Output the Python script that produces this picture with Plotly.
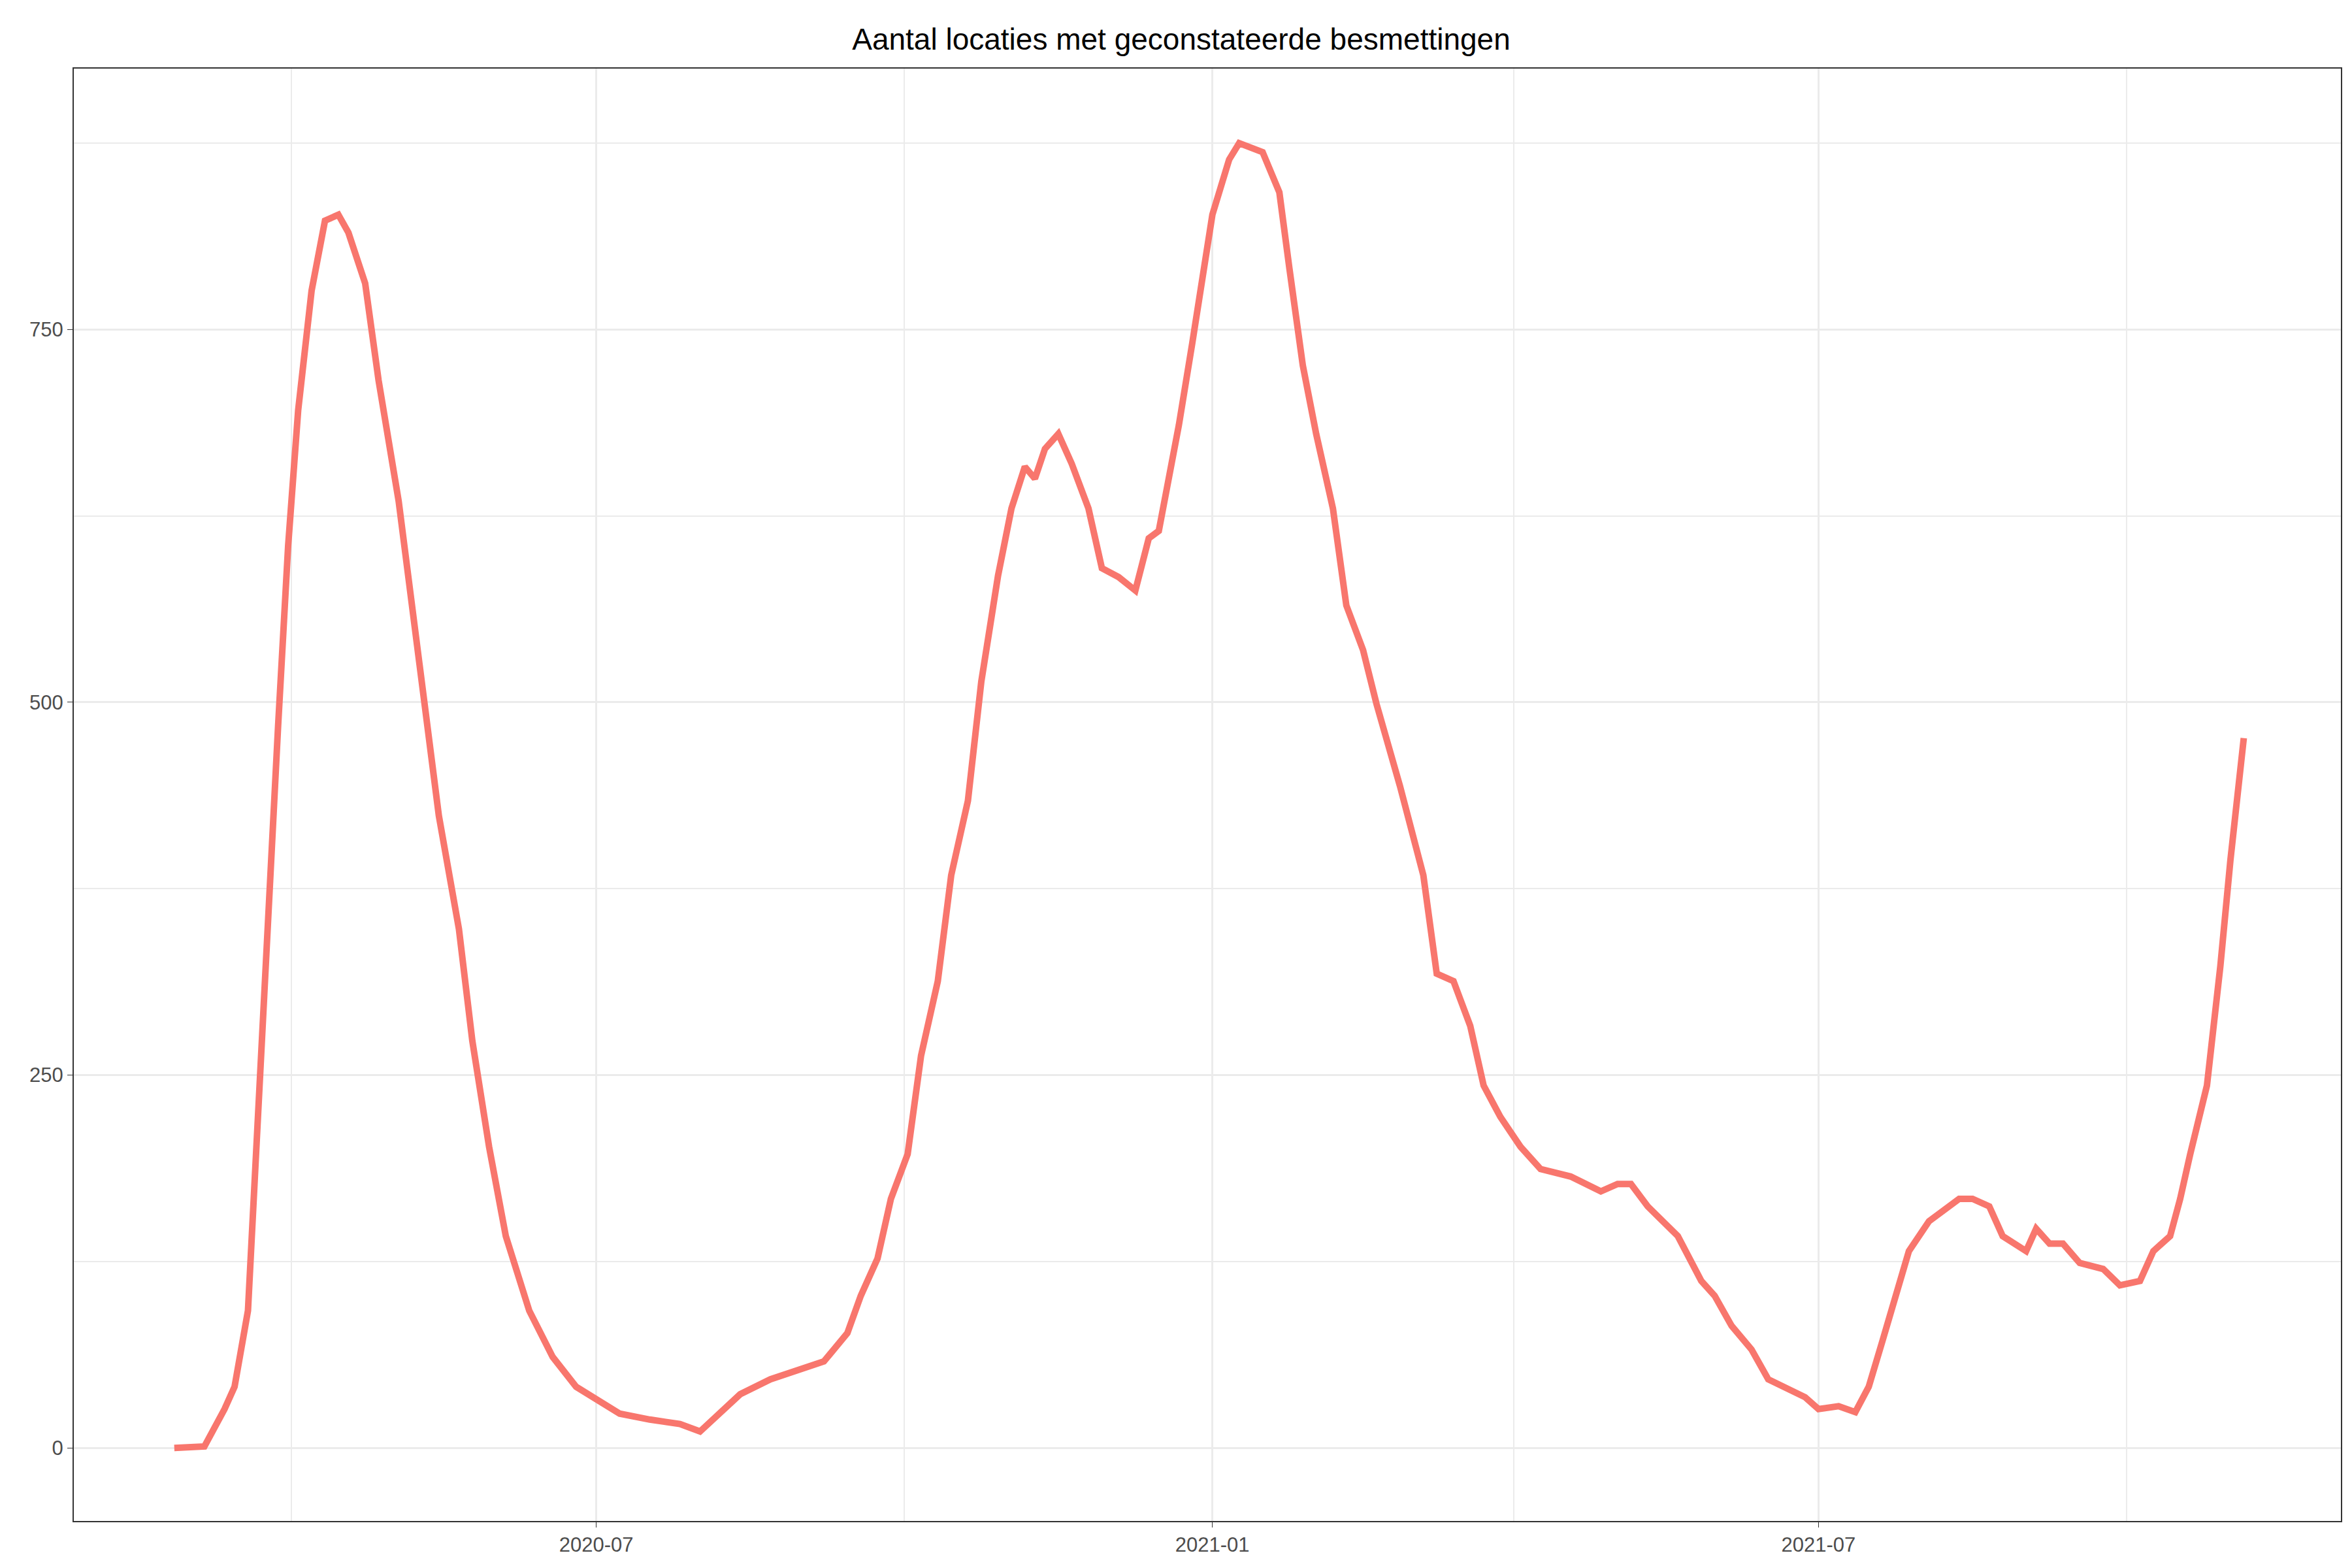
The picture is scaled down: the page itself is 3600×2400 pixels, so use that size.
import pandas as pd
import plotly.graph_objects as go

# days offset from 2020-07-01
day_offsets = [-126,-117,-111,-108,-104,-102,-99,-95,-92,-89,-85,-81,-77,-74,-69,-65,-59,-54,-47,-41,-37,-32,-27,-20,-13,-6,0,7,16,25,31,36,43,52,61,68,75,79,84,88,93,97,102,106,111,115,120,124,128,131,134,138,142,147,151,156,161,165,168,174,178,184,189,192,199,204,207,211,215,220,224,229,233,240,247,251,256,261,265,270,276,282,291,300,305,309,314,323,330,334,339,345,350,357,361,365,371,376,380,384,388,392,398,407,411,416,420,427,430,434,438,443,450,455,461,465,470,473,476,481,485,488,492]
values = [0,1,26,41,92,182,323,484,605,696,776,823,827,815,781,716,635,545,424,348,273,202,142,92,61,41,33,23,19,16,11,21,36,46,53,58,77,102,127,167,197,263,313,384,434,514,585,630,658,650,670,680,660,630,590,584,575,610,615,686,741,827,864,875,869,842,791,726,680,630,565,535,499,444,384,318,313,283,243,222,202,187,182,172,177,177,162,142,112,102,82,66,46,38,34,26,28,24,41,71,102,132,152,167,167,162,142,132,147,137,137,124,120,109,112,132,142,167,197,243,323,394,476]
dates = pd.Timestamp("2020-07-01") + pd.to_timedelta(day_offsets, unit="D")

title = "Aantal locaties met geconstateerde besmettingen"

fig = go.Figure(go.Scatter(x=dates, y=values, mode="lines",
                           line=dict(color="#F8766D", width=10), showlegend=False))
grid = "#EBEBEB"
fig.update_layout(
    width=3600, height=2400, plot_bgcolor="white", paper_bgcolor="white",
    margin=dict(l=105, r=25, t=97, b=80),
    title=dict(text=title, x=0.5, xanchor="center", y=0.985, yanchor="top",
               font=dict(family="Liberation Sans, Arial", size=46, color="black")),
    font=dict(family="Liberation Sans, Arial", size=31, color="#4D4D4D"),
)
fig.update_xaxes(type="date", range=["2020-01-27", "2021-12-04"],
                 tick0="2020-07-01", dtick="M6", tickformat="%Y-%m",
                 showgrid=True, gridcolor=grid, gridwidth=3,
                 minor=dict(dtick="M3", showgrid=True, gridcolor=grid, gridwidth=1.5),
                 ticks="outside", ticklen=8, tickcolor="#333333",
                 showline=True, linecolor="#333333", linewidth=2, mirror=True,
                 zeroline=False)
fig.update_yaxes(range=[-49, 925], tick0=0, dtick=250,
                 showgrid=True, gridcolor=grid, gridwidth=3,
                 minor=dict(dtick=125, showgrid=True, gridcolor=grid, gridwidth=1.5),
                 ticks="outside", ticklen=8, tickcolor="#333333",
                 showline=True, linecolor="#333333", linewidth=2, mirror=True,
                 zeroline=False)
fig.write_html("out.html")
